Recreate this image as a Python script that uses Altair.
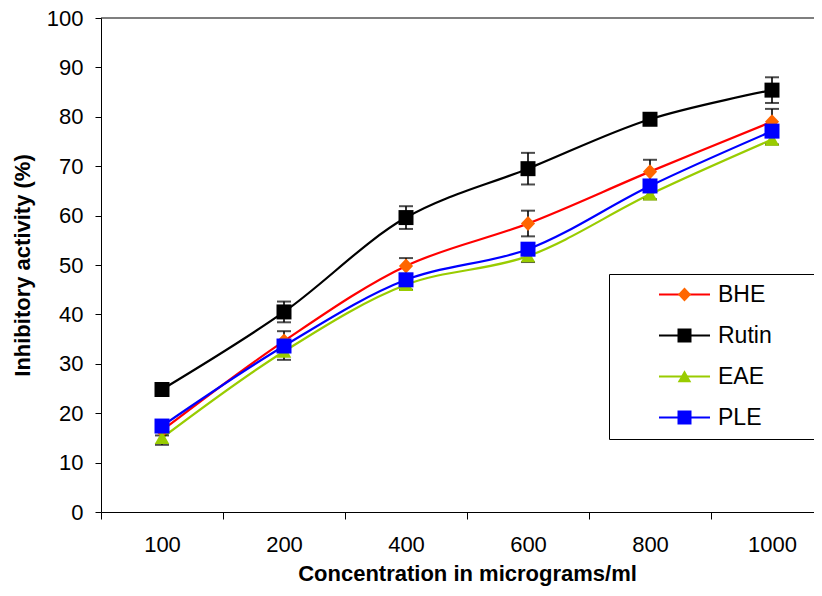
import altair as alt
import pandas as pd

conc = ["100", "200", "400", "600", "800", "1000"]
series = ["BHE", "Rutin", "EAE", "PLE"]

bhe = [16.5, 34.6, 49.8, 58.4, 68.9, 79.0]
rutin = [24.8, 40.5, 59.6, 69.5, 79.5, 85.4]
eae = [15.0, 32.5, 46.0, 51.8, 64.3, 75.4]
ple = [17.4, 33.6, 47.0, 53.2, 66.0, 77.1]

bhe_err = [1.0, 2.0, 1.6, 2.6, 2.4, 2.6]
rutin_err = [0.6, 2.1, 2.3, 3.2, 0.6, 2.6]
eae_err = [1.4, 1.7, 1.0, 1.2, 1.0, 1.0]
ple_err = [0.8, 0.8, 0.8, 0.8, 0.8, 0.8]

line_colors = ["#FF0000", "#000000", "#99CC00", "#0000FF"]
marker_colors = ["#FF6600", "#000000", "#99CC00", "#0000FF"]
marker_paths = [
    "M0,-0.7L0.66,0L0,0.7L-0.66,0Z",
    "M-0.7,-0.7L0.7,-0.7L0.7,0.7L-0.7,0.7Z",
    "M0,-0.62L0.68,0.58L-0.68,0.58Z",
    "M-0.7,-0.7L0.7,-0.7L0.7,0.7L-0.7,0.7Z",
]
legend_line_path = "M-2.55,0L2.55,0"

rows = []
for s, vals, errs in zip(series, [bhe, rutin, eae, ple], [bhe_err, rutin_err, eae_err, ple_err]):
    for c, v, e in zip(conc, vals, errs):
        rows.append({"conc": c, "series": s, "mkey": "m" + s, "value": v, "lo": v - e, "hi": v + e})
df = pd.DataFrame(rows)
mkeys = ["m" + s for s in series]

FONT = "Liberation Sans"

xscale = alt.Scale(type="band", domain=conc, range=[0, 732], paddingInner=0, paddingOuter=0)
yscale = alt.Scale(domain=[0, 100])

xaxis = alt.Axis(
    title="Concentration in micrograms/ml", labelAngle=0, tickBand="extent",
    tickSize=7, labelPadding=15, titlePadding=8, labelFontSize=22, titleFontSize=22,
    labelFont=FONT, titleFont=FONT, titleFontWeight="bold", labelColor="black",
    titleColor="black", domainColor="black", tickColor="black", grid=False,
)
yaxis = alt.Axis(
    title="Inhibitory activity (%)", values=list(range(0, 101, 10)), tickSize=6,
    labelPadding=12, titlePadding=12, labelFontSize=22, titleFontSize=22,
    labelFont=FONT, titleFont=FONT, titleFontWeight="bold", labelColor="black",
    titleColor="black", domainColor="black", tickColor="black", grid=False,
)

PAD = "\u2800\u2800"
LEG_X, LEG_Y = 508, 256
common_leg = dict(
    orient="none", legendX=LEG_X, legendY=LEG_Y, title=None,
    labelFontSize=23, labelFont=FONT, symbolSize=400,
    labelOffset=22, symbolOffset=55,
)

base = alt.Chart(df).encode(x=alt.X("conc:O", scale=xscale, sort=conc, axis=xaxis))

lines = base.mark_line(interpolate="catmull-rom", strokeWidth=2.2).encode(
    y=alt.Y("value:Q", scale=yscale, axis=yaxis),
    color=alt.Color(
        "series:N", scale=alt.Scale(domain=series, range=line_colors),
        legend=alt.Legend(
            symbolType=legend_line_path, symbolStrokeWidth=2.2, labelColor="black",
            strokeColor="black", fillColor="white", padding=9, rowPadding=17,
            labelExpr="datum.label + '" + PAD + "'", **common_leg,
        ),
    ),
)

rules = base.mark_rule(color="black", strokeWidth=1.6).encode(
    y=alt.Y("lo:Q", scale=yscale), y2="hi:Q"
)
caps_lo = base.mark_tick(color="black", size=14, thickness=2, orient="horizontal").encode(
    y=alt.Y("lo:Q", scale=yscale)
)
caps_hi = base.mark_tick(color="black", size=14, thickness=2, orient="horizontal").encode(
    y=alt.Y("hi:Q", scale=yscale)
)

marker_leg = alt.Legend(
    strokeColor="transparent", fillColor="transparent", padding=9, rowPadding=17,
    labelExpr="''", **common_leg,
)
points = base.mark_point(filled=True, size=459, opacity=1, strokeWidth=0).encode(
    y=alt.Y("value:Q", scale=yscale),
    fill=alt.Fill("mkey:N", scale=alt.Scale(domain=mkeys, range=marker_colors), legend=marker_leg),
    shape=alt.Shape("mkey:N", scale=alt.Scale(domain=mkeys, range=marker_paths), legend=marker_leg),
)

frame_df = pd.DataFrame({"top": [100]})
frame = alt.Chart(frame_df).mark_rule(color="black", strokeWidth=1.2).encode(
    y=alt.Y("top:Q", scale=yscale)
)

chart = (
    alt.layer(lines, rules, caps_lo, caps_hi, points, frame)
    .properties(
        width=713, height=494,
        padding={"left": 93, "top": 10, "right": 0, "bottom": 76},
        autosize=alt.AutoSizeParams(type="none"),
        background="white",
    )
    .configure_view(stroke=None)
)

chart.save("out.html", embed_options={"renderer": "svg", "actions": False})
